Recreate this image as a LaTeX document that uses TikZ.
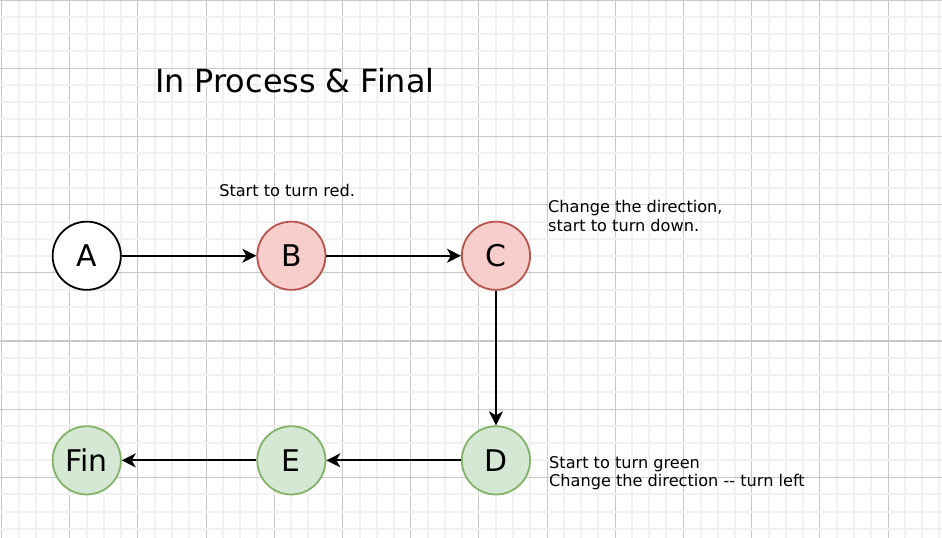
\documentclass[tikz,border=0pt]{standalone}
\usepackage{fontspec}
\setmainfont{DejaVu Sans}
\usetikzlibrary{arrows.meta}
\definecolor{gridminor}{HTML}{F1F1F1}
\definecolor{gridmajor}{HTML}{C8C8C8}
\definecolor{redfill}{HTML}{F8CECC}
\definecolor{reddraw}{HTML}{B85450}
\definecolor{greenfill}{HTML}{D5E8D4}
\definecolor{greendraw}{HTML}{82B366}
\begin{document}
\begin{tikzpicture}[x=1bp, y=-1bp,
	minorline/.style={gridminor, line width=2bp},
	majorline/.style={gridmajor, line width=1.1bp},
	state/.style={shape=circle, draw, fill=white, line width=1.8bp, minimum size=68.2bp, inner sep=0pt, font=\fontsize{30}{30}\selectfont},
	redstate/.style={state, draw=reddraw, fill=redfill},
	greenstate/.style={state, draw=greendraw, fill=greenfill},
	note/.style={anchor=base west, inner sep=0pt, align=left, font=\fontsize{16.2}{19}\selectfont},
	wire/.style={line width=1.8bp, -{Stealth[length=14bp, width=14bp, inset=4bp]}}]
	\useasboundingbox (0, 0) rectangle (942, 538);
	% Grid (every 4th line is a major one):
	\foreach \i in {0,...,55} {
		\pgfmathsetmacro\gx{1.5+17.05*\i}
		\pgfmathtruncatemacro\m{mod(\i,4)}
		\ifnum\m=0 \draw[majorline] (\gx, 0) -- (\gx, 538); \else \draw[minorline] (\gx, 0) -- (\gx, 538); \fi
	}
	\foreach \j in {0,...,31} {
		\pgfmathsetmacro\gy{17.05*\j}
		\pgfmathtruncatemacro\m{mod(\j,4)}
		\ifnum\m=0 \draw[majorline] (0, \gy) -- (942, \gy); \else \draw[minorline] (0, \gy) -- (942, \gy); \fi
	}
	\begin{scope}[shift={(1.5, 0)}, x=17.05bp, y=-17.05bp]
	% Title:
	\node[anchor=base west, inner sep=0pt, font=\fontsize{32}{32}\selectfont] (title) at (9.0, 5.41) {In Process \& Final};
	% States:
	\node[state] (A) at (5, 15) {A};
	\node[redstate] (B) at (17, 15) {B};
	\node[redstate] (C) at (29, 15) {C};
	\node[greenstate] (D) at (29, 27) {D};
	\node[greenstate] (E) at (17, 27) {E};
	\node[greenstate] (Fin) at (5, 27) {Fin};
	% Wires:
	\draw[wire] (A) -- (B);
	\draw[wire] (B) -- (C);
	\draw[wire] (C) -- (D);
	\draw[wire] (D) -- (E);
	\draw[wire] (E) -- (Fin);
	% Notes:
	\node[note] (noteB) at (12.76, 11.55) {Start to turn red.};
	\node[note] (noteC) at (32.05, 13.55) {Change the direction,\\start to turn down.};
	\node[note] (noteD) at (32.11, 28.56) {Start to turn green\\Change the direction -{}- turn left};
	\end{scope}
\end{tikzpicture}
\end{document}
